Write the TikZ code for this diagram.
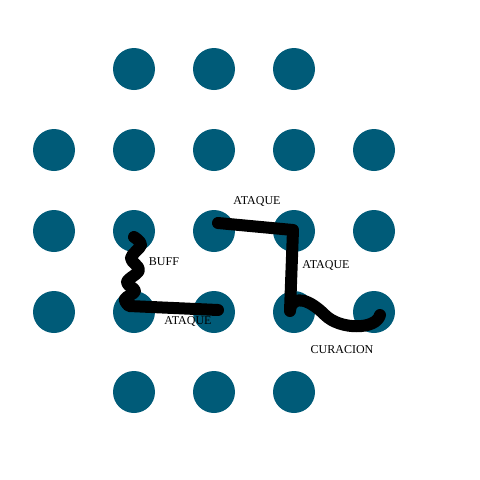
\documentclass[tikz,border=0pt]{standalone}
\usepackage{fontspec}
\setmainfont{Liberation Serif}
\usetikzlibrary{positioning}
\definecolor{gridteal}{HTML}{005B78}

\begin{document}
\begin{tikzpicture}[x=1pt, y=-1pt,
  dot/.style={circle, fill=gridteal, minimum size=42pt, inner sep=0pt},
  stroke/.style={line width=12pt, line cap=round, line join=round, draw=black},
  tag/.style={font=\fontsize{12}{13}\selectfont, inner sep=0pt}
]
\useasboundingbox (0,0) rectangle (480,480);

% board
\foreach \c/\x in {1/134,2/214,3/294} {
  \node[dot] (t\c) at (\x,69) {};
  \node[dot] (b\c) at (\x,392) {};
}
\foreach \r/\y in {1/150,2/231,3/312} {
  \foreach \c/\x in {0/54,1/134,2/214,3/294,4/374} {
    \node[dot] (m\r\c) at (\x,\y) {};
  }
}

% moves
\draw[stroke] plot[smooth, tension=0.6] coordinates {(134,237) (141,245) (131,258) (139,270) (127,282) (135,291) (125,299) (129,306)} -- (218,310);
\draw[stroke] (218,223) -- (293,230) -- (290,311);
\draw[stroke] (290,309) .. controls (294,294) and (310,300) .. (325,315)
  .. controls (340,330) and (376,330) .. (380,315);

% labels
\node[tag] (buff) at (164,262) {BUFF};
\node[tag] (atq1) at (188,321) {ATAQUE};
\node[tag] (atq2) at (257,201) {ATAQUE};
\node[tag] (atq3) at (326,265) {ATAQUE};
\node[tag] (cura) at (342,350) {CURACION};
\end{tikzpicture}
\end{document}
